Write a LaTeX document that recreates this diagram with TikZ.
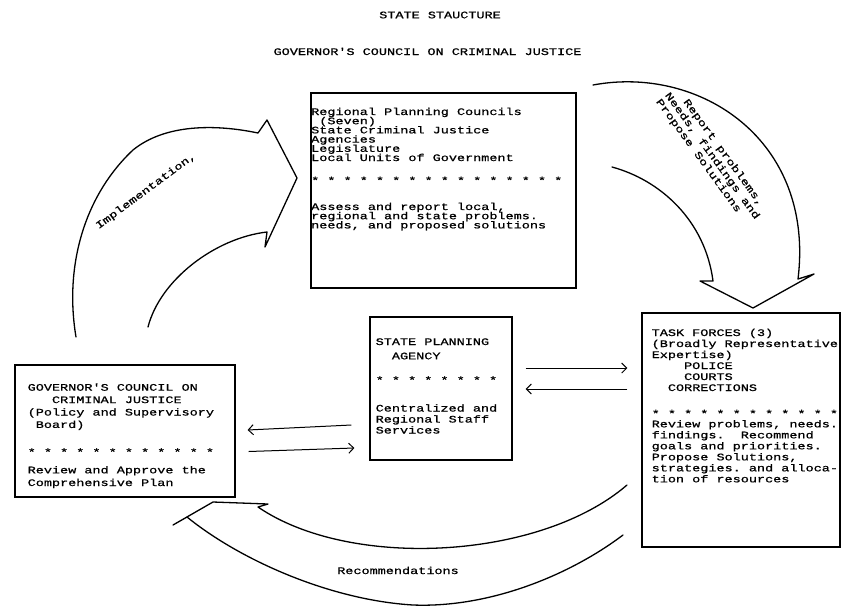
\documentclass[tikz,border=0pt]{standalone}
\usepackage{fontspec}
\usetikzlibrary{arrows.meta}
% typewriter face, widened to the pitch of the typed sheet
\newfontfamily\typefont[FakeStretch=1.35,FakeBold=0.8]{Liberation Mono}
\newcommand\indentby[1]{\hspace*{\dimexpr 8.1pt*#1\relax}}
\newcommand\typesize[1]{\typefont\fontsize{10}{#1}\selectfont\lineskiplimit=-20pt\frenchspacing}
% every blank takes one full character cell
\newcommand\monospacing{\spaceskip=8.1pt\relax\xspaceskip=8.1pt\relax}

\begin{document}
\begin{tikzpicture}[x=1pt,y=-1pt,
  panel/.style={draw, line width=1.2pt, inner sep=0pt},
  txt/.style={anchor=base west, inner sep=0pt, align=left, text width=320pt},
  plaintext/.style={inner sep=0pt, font=\typesize{11}},
  flow/.style={line width=1pt, -{Straight Barb[length=5pt,width=10pt]}},
  curve/.style={line width=1.3pt, line join=round, line cap=round}]

\fill[white] (0,0) rectangle (842,608);
\useasboundingbox (0,0) rectangle (842,608);

% headings
\node[plaintext, anchor=base] (title) at (440,18.3) {\monospacing STATE STAUCTURE};
\node[plaintext, anchor=base] (council-title) at (427.5,55) {\monospacing GOVERNOR'S COUNCIL ON CRIMINAL JUSTICE};

% the four bodies
\node[panel, minimum width=265pt, minimum height=195pt] (regional) at (443.5,190.5) {};
\node[panel, minimum width=142pt, minimum height=143pt] (spa) at (441,388.5) {};
\node[panel, minimum width=198pt, minimum height=234pt] (tf) at (741,430) {};
\node[panel, minimum width=220pt, minimum height=132pt] (gcc) at (125,431) {};

\node[txt, font=\typesize{9.2}] (regional-text) at (311,115) {\monospacing
Regional Planning Councils\\
\indentby{1}(Seven)\\
State Criminal Justice\\
Agencies\\
Legislature\\
Local Units of Government\\[13.6pt]
* * * * * * * * * * * * * * * *\\[17pt]
Assess and report local,\\
regional and state problems.\\
needs, and proposed solutions};

\node[txt, font=\typesize{11}] (spa-text) at (375.5,345) {\monospacing
STATE PLANNING\\[3.3pt]
\indentby{2}AGENCY\\[13.2pt]
* * * * * * * *\\[17pt]
Centralized and\\
Regional Staff\\
Services};

\node[txt, font=\typesize{11}] (tf-text) at (651.5,336) {\monospacing
TASK FORCES (3)\\
(Broadly Representative\\
Expertise)\\
\indentby{4}POLICE\\
\indentby{4}COURTS\\
\indentby{2}CORRECTIONS\\[15pt]
* * * * * * * * * * * *\\[-0.7pt]
Review problems, needs.\\
findings.\ \ Recommend\\
goals and priorities.\\
Propose Solutions,\\
strategies. and alloca-\\
tion of resources};

\node[txt, font=\typesize{12.4}] (gcc-text) at (27.5,390.7) {\monospacing
GOVERNOR'S COUNCIL ON\\
\indentby{3}CRIMINAL JUSTICE\\
(Policy and Supervisory\\
\indentby{1}Board)\\[15.2pt]
* * * * * * * * * * * *\\[5.4pt]
Review and Approve the\\[0.3pt]
Comprehensive Plan};

% paired exchange arrows
\draw[flow] ([shift={(13,-20.5)}]spa.east) -- ([shift={(-14,-62)}]tf.west);
\draw[flow] ([shift={(-14,-41)}]tf.west) -- ([shift={(13,0.5)}]spa.east);
\draw[flow] ([shift={(-18,36.5)}]spa.west) -- ([shift={(12,-1)}]gcc.east);
\draw[flow] ([shift={(13,20.5)}]gcc.east) -- ([shift={(-15,59.5)}]spa.west);

% broad curved arrows of the cycle
\draw[curve] (76,337) .. controls (64,265) and (85,195) .. (133,150)
  .. controls (165,124) and (215,124) .. (258,133)
  -- (267,120) -- (297,178) -- (265,247) -- (267,232)
  .. controls (215,238) and (160,280) .. (148,327);
\node[plaintext, rotate=36.5] (implement-label) at (146,191) {\monospacing Implementation,};

\draw[curve] (593,85) .. controls (700,65) and (815,140) .. (798,279)
  -- (814,274) -- (753,308) -- (700,281) -- (713,281)
  .. controls (705,220) and (660,180) .. (612,167);
\node[plaintext, rotate=-54, align=left] (report-label) at (712,156) {%
\indentby{2}\monospacing Report problems,\\
\monospacing Needs, findings and\\
\monospacing Propose Solutions};

\draw[curve] (623,535) .. controls (570,575) and (490,608) .. (413,605)
  .. controls (330,600) and (240,560) .. (187,517)
  -- (173,525) -- (213,502) -- (268,504) -- (258,507)
  .. controls (350,570) and (540,560) .. (627,485);
\node[plaintext, anchor=base] (recommend-label) at (398,574) {\monospacing Recommendations};

\end{tikzpicture}
\end{document}
